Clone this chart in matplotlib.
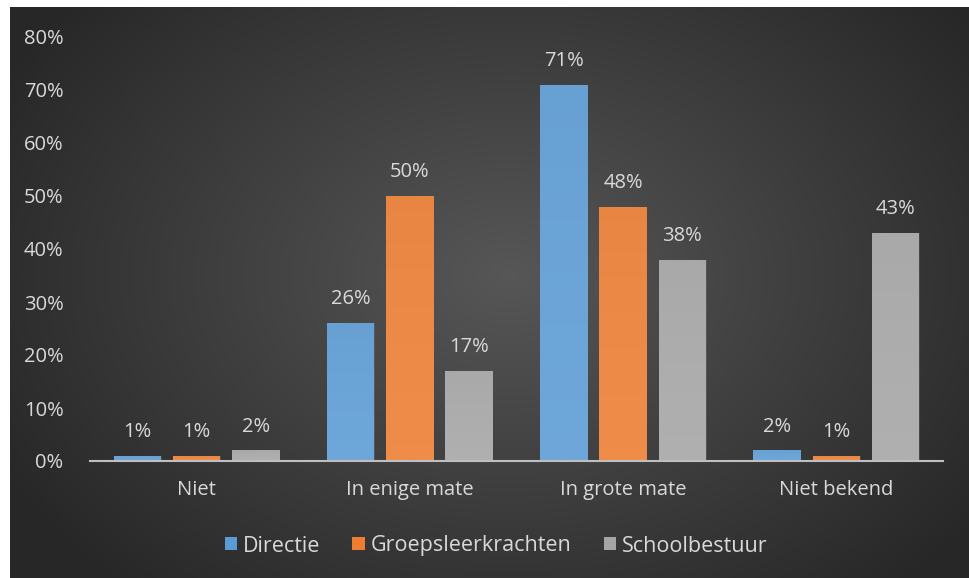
import numpy as np
import matplotlib.pyplot as plt

categories = ['Niet', 'In enige mate', 'In grote mate', 'Niet bekend']
series = ['Directie', 'Groepsleerkrachten', 'Schoolbestuur']
directie = [1, 26, 71, 2]
groepsleerkrachten = [1, 50, 48, 1]
schoolbestuur = [2, 17, 38, 43]
yticks = [0, 10, 20, 30, 40, 50, 60, 70, 80]

colors = ['#5B9BD5', '#ED7D31', '#A5A5A5']
txt = '#D9D9D9'
plt.rcParams['font.family'] = ['Open Sans', 'DejaVu Sans']

W, H = 970, 578
fig = plt.figure(figsize=(W / 100, H / 100), dpi=100)
fig.patch.set_facecolor('white')

# dark radial background
bg = fig.add_axes([10 / W, 0, (W - 10) / W, (H - 7) / H])
bg.set_axis_off()
yy, xx = np.mgrid[0:1:300j, 0:1:500j]
r = np.sqrt(((xx - 0.52) / 0.62) ** 2 + ((yy - 0.47) / 0.75) ** 2)
shade = np.clip(0.34 - 0.19 * r, 0.155, 0.34)
bg.imshow(np.dstack([shade] * 3), aspect='auto', extent=[0, 1, 0, 1])

ax = fig.add_axes([90 / W, 117 / H, (943 - 90) / W, (461 - 37) / H])
ax.patch.set_alpha(0)
x = np.arange(len(categories))
bw = 0.222
step = 0.278
for i, (vals, c) in enumerate(zip([directie, groepsleerkrachten, schoolbestuur], colors)):
    pos = x + (i - 1) * step
    bars = ax.bar(pos, vals, width=bw, color=c, label=series[i], zorder=3)
    for b, v in zip(bars, vals):
        # subtle top highlight
        grad = np.linspace(1, 0, 50).reshape(-1, 1)
        im = ax.imshow(grad, cmap='Greys', alpha=0.12, aspect='auto', zorder=4,
                       extent=[b.get_x(), b.get_x() + bw, 0, v], vmin=0, vmax=3)
        im.set_clip_path(b)
        ax.text(b.get_x() + bw / 2, v + 2.6, f'{v}%', ha='center', va='bottom',
                color=txt, fontsize=14.5)

ax.set_xlim(-0.5, 3.5)
ax.set_ylim(0, 80)
ax.set_yticks(yticks)
ax.set_yticklabels([f'{t}%' for t in yticks])
ax.set_xticks(x)
ax.set_xticklabels(categories)
ax.tick_params(axis='y', length=0, pad=19, labelsize=14.5, labelcolor=txt)
ax.tick_params(axis='x', length=0, pad=14, labelsize=14.5, labelcolor=txt)
for s in ['top', 'right', 'left']:
    ax.spines[s].set_visible(False)
ax.spines['bottom'].set_color('#BFBFBF')
ax.spines['bottom'].set_linewidth(1.5)
ax.spines['bottom'].set_zorder(5)

leg = ax.legend(loc='center', bbox_to_anchor=(496 / W, 32 / H), bbox_transform=fig.transFigure,
                ncol=3, frameon=False, fontsize=15.5, handlelength=0.56, handleheight=0.56,
                handletextpad=0.28, columnspacing=1.5)
for t in leg.get_texts():
    t.set_color(txt)

fig.savefig('out.png', dpi=100, facecolor=fig.get_facecolor())
